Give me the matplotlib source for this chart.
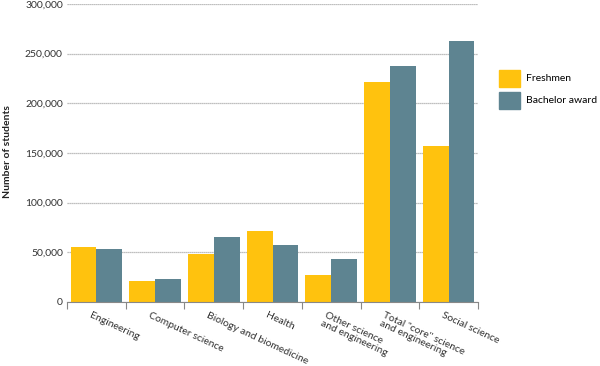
import numpy as np
import matplotlib as mpl
import matplotlib.pyplot as plt
from matplotlib.patches import Patch

mpl.rc('font', family=['Lato', 'DejaVu Sans'], size=7.5)

categories = ['Engineering', 'Computer science', 'Biology and biomedicine', 'Health',
              'Other science\nand engineering', 'Total "core" science\nand engineering',
              'Social science']
freshmen = [55000, 21500, 48000, 71000, 27000, 221000, 157000]
bachelor = [53000, 23500, 65000, 57000, 43000, 238000, 263000]
yticks = [0, 50000, 100000, 150000, 200000, 250000, 300000]

yellow = '#FFC20E'
slate = '#5E8491'

fig = plt.figure(figsize=(6, 3.66), dpi=100)
ax = fig.add_axes([0.1117, 0.175, 0.685, 0.814])

x = np.arange(len(categories))
w = 0.44
ax.bar(x - w/2, freshmen, w, color=yellow, zorder=2)
ax.bar(x + w/2, bachelor, w, color=slate, zorder=2)

ax.set_xlim(-0.5, len(categories) - 0.5)
ax.set_ylim(0, 300000)
ax.set_yticks(yticks)
ax.set_yticklabels(['{:,}'.format(v) for v in yticks], color='#333333')
ax.tick_params(axis='y', length=0, pad=3)
ax.grid(axis='y', color='#aaaaaa', linestyle=(0, (1, 0.6)), linewidth=0.9, zorder=0)

ax.set_xticks(x)
ax.set_xticklabels([])
ax.tick_params(axis='x', which='major', length=0)
ax.set_xticks(np.arange(len(categories) + 1) - 0.5, minor=True)
ax.tick_params(axis='x', which='minor', length=5, color='#888888', width=0.8)

for s in ['top', 'right', 'left']:
    ax.spines[s].set_visible(False)
ax.spines['bottom'].set_color('#888888')
ax.spines['bottom'].set_linewidth(0.8)

for xi, lab in zip(x, categories):
    ax.text(xi - 0.08, -9000, lab, rotation=-25, rotation_mode='anchor',
            ha='left', va='top', color='#333333', linespacing=0.95)

fig.text(0.012, 0.585, 'Number of students', rotation=90, fontweight='bold',
         ha='center', va='center', color='#222222')

handles = [Patch(color=yellow), Patch(color=slate)]
fig.legend(handles, ['Freshmen', 'Bachelor award'], loc='upper left',
           bbox_to_anchor=(0.816, 0.835), frameon=False, handlelength=2,
           handleheight=2.1, labelspacing=0.5, handletextpad=0.6, fontsize=7.5)

plt.savefig('out.png', dpi=100)
